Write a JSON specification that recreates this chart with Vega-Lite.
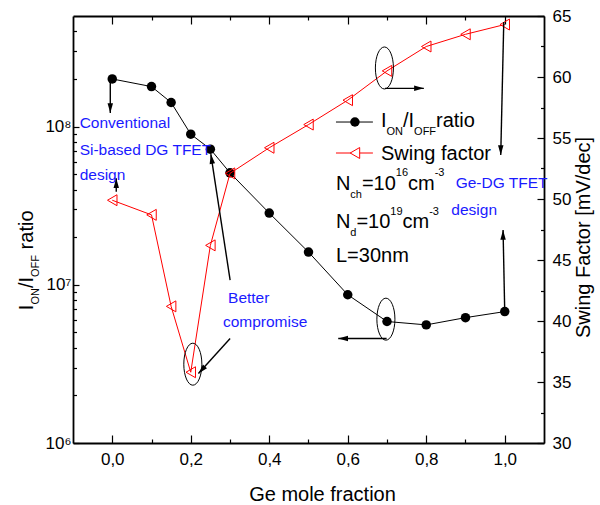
{
  "$schema": "https://vega.github.io/schema/vega-lite/v6.json",
  "width": 471,
  "height": 427,
  "autosize": {"type": "none"},
  "padding": {"left": 73, "top": 16, "right": 56, "bottom": 62},
  "config": {
    "view": {"stroke": null},
    "font": "Liberation Sans",
    "axis": {
      "labelFont": "Liberation Sans", "labelFontSize": 17, "labelColor": "black",
      "titleFont": "Liberation Sans", "titleFontSize": 20, "titleFontWeight": "normal", "titleColor": "black",
      "domainColor": "black", "domainWidth": 1.8, "tickColor": "black", "tickWidth": 1.2,
      "grid": false, "labelFlush": false, "labelOverlap": false
    }
  },
  "datasets": {
    "ratio": [
      {"x": 0, "y": 200000000}, {"x": 0.1, "y": 179000000}, {"x": 0.15, "y": 142000000},
      {"x": 0.2, "y": 89500000}, {"x": 0.25, "y": 72000000}, {"x": 0.3, "y": 51000000},
      {"x": 0.4, "y": 28400000}, {"x": 0.5, "y": 16100000}, {"x": 0.6, "y": 8650000},
      {"x": 0.7, "y": 5860000}, {"x": 0.8, "y": 5580000}, {"x": 0.9, "y": 6200000},
      {"x": 1.0, "y": 6770000}
    ],
    "swing": [
      {"x": 0, "y": 49.9}, {"x": 0.1, "y": 48.7}, {"x": 0.15, "y": 41.2}, {"x": 0.2, "y": 35.8},
      {"x": 0.25, "y": 46.2}, {"x": 0.3, "y": 52.1}, {"x": 0.4, "y": 54.2}, {"x": 0.5, "y": 56.1},
      {"x": 0.6, "y": 58.1}, {"x": 0.7, "y": 60.5}, {"x": 0.8, "y": 62.5}, {"x": 0.9, "y": 63.5},
      {"x": 1.0, "y": 64.3}
    ],
    "arrows": [
      {"x": -0.005, "y": 59.6, "x2": -0.005, "y2": 57.05, "head": "down"},
      {"x": 0.0102, "y": 50.6, "x2": 0.0102, "y2": 51.71, "head": "up"},
      {"x": 0.3003, "y": 43.35, "x2": 0.2511, "y2": 53.68, "head": "upleft"},
      {"x": 0.3003, "y": 38.56, "x2": 0.2196, "y2": 35.69, "head": "downleft"},
      {"x": 0.6947, "y": 59.07, "x2": 0.7939, "y2": 59.07, "head": "right"},
      {"x": 0.699, "y": 38.56, "x2": 0.5758, "y2": 38.56, "head": "left"},
      {"x": 0.9975, "y": 64.5, "x2": 0.9898, "y2": 53.6, "head": "down"},
      {"x": 1.0, "y": 40.72, "x2": 0.9957, "y2": 47.45, "head": "up"}
    ],
    "ellipses": [
      {"x": 0.2053, "y": 36.46}, {"x": 0.6934, "y": 60.74}, {"x": 0.6972, "y": 40.15}
    ],
    "labels": [
      {"x": -0.083, "y": 55.79, "text": "Conventional", "kind": "blue"},
      {"x": -0.083, "y": 53.6, "text": "Si-based DG TFET", "kind": "blue"},
      {"x": -0.083, "y": 51.59, "text": "design", "kind": "blue"},
      {"x": 0.295, "y": 41.46, "text": "Better", "kind": "blue"},
      {"x": 0.282, "y": 39.49, "text": "compromise", "kind": "blue"},
      {"x": 0.875, "y": 50.89, "text": "Ge-DG TFET", "kind": "blue"},
      {"x": 0.864, "y": 48.68, "text": "design", "kind": "blue"},
      {"x": 0.6845, "y": 55.87, "text": "I", "kind": "main"},
      {"x": 0.7407, "y": 55.87, "text": "/I", "kind": "main"},
      {"x": 0.8249, "y": 55.87, "text": "ratio", "kind": "main"},
      {"x": 0.6845, "y": 53.19, "text": "Swing factor", "kind": "main"},
      {"x": 0.57, "y": 50.73, "text": "N", "kind": "main"},
      {"x": 0.6361, "y": 50.73, "text": "=10", "kind": "main"},
      {"x": 0.7534, "y": 50.73, "text": "cm", "kind": "main"},
      {"x": 0.57, "y": 47.59, "text": "N", "kind": "main"},
      {"x": 0.6221, "y": 47.59, "text": "=10", "kind": "main"},
      {"x": 0.7394, "y": 47.59, "text": "cm", "kind": "main"},
      {"x": 0.57, "y": 44.85, "text": "L=30nm", "kind": "main"},
      {"x": 0.6987, "y": 55.24, "text": "ON", "kind": "small"},
      {"x": 0.769, "y": 55.24, "text": "OFF", "kind": "small"},
      {"x": 0.6066, "y": 50.07, "text": "ch", "kind": "small"},
      {"x": 0.7224, "y": 51.87, "text": "16", "kind": "small"},
      {"x": 0.8214, "y": 51.87, "text": "-3", "kind": "small"},
      {"x": 0.6066, "y": 46.96, "text": "d", "kind": "small"},
      {"x": 0.7084, "y": 48.68, "text": "19", "kind": "small"},
      {"x": 0.8074, "y": 48.68, "text": "-3", "kind": "small"},
      {"x": -0.201, "y": 40.886, "text": "I", "kind": "titleMain"},
      {"x": -0.201, "y": 42.699, "text": "/I", "kind": "titleMain"},
      {"x": -0.201, "y": 45.87, "text": "ratio", "kind": "titleMain"},
      {"x": -0.1858, "y": 41.345, "text": "ON", "kind": "titleSmall"},
      {"x": -0.1858, "y": 43.61, "text": "OFF", "kind": "titleSmall"}
    ],
    "legendLines": [
      {"x": 0.57, "x2": 0.6641, "y": 56.31, "series": "ratio"},
      {"x": 0.57, "x2": 0.6641, "y": 53.77, "series": "swing"}
    ],
    "legendMarks": [
      {"x": 0.6183, "y": 56.31, "series": "ratio"},
      {"x": 0.6183, "y": 53.77, "series": "swing"}
    ]
  },
  "layer": [
    {
      "data": {"name": "ratio"},
      "encoding": {
        "x": {
          "field": "x", "type": "quantitative",
          "scale": {"domain": [-0.1, 1.1], "nice": false, "zero": false},
          "axis": {
            "orient": "bottom", "title": "Ge mole fraction",
            "values": [0, 0.1, 0.2, 0.3, 0.4, 0.5, 0.6, 0.7, 0.8, 0.9, 1.0],
            "labelExpr": "round(datum.value*10)%2==0 ? replace(format(datum.value,'.1f'),'.',',') : ''",
            "tickSize": {"condition": {"test": "round(datum.value*10)%2==0", "value": -8}, "value": -4},
            "labelPadding": 16,
            "titleX": 249, "titleY": 57, "titleBaseline": "alphabetic", "titleAlign": "center"
          }
        },
        "y": {
          "field": "y", "type": "quantitative",
          "scale": {"type": "log", "domain": [1000000, 500000000], "nice": false},
          "axis": {
            "orient": "left", "title": null,
            "values": [1000000, 2000000, 3000000, 4000000, 5000000, 6000000, 7000000, 8000000, 9000000,
                       10000000, 20000000, 30000000, 40000000, 50000000, 60000000, 70000000, 80000000, 90000000,
                       100000000, 200000000, 300000000, 400000000],
            "labelExpr": "datum.value==1000000 ? '10⁶' : datum.value==10000000 ? '10⁷' : datum.value==100000000 ? '10⁸' : ''",
            "tickSize": {"condition": {"test": "datum.value==1000000 || datum.value==10000000 || datum.value==100000000", "value": -6}, "value": -3.5},
            "labelPadding": 8
          }
        }
      },
      "layer": [
        {"mark": {"type": "line", "color": "black", "strokeWidth": 1}},
        {"mark": {"type": "point", "shape": "circle", "filled": true, "color": "black", "size": 90, "opacity": 1}}
      ]
    },
    {
      "encoding": {
        "x": {
          "field": "x", "type": "quantitative",
          "scale": {"domain": [-0.1, 1.1], "nice": false, "zero": false},
          "axis": {
            "orient": "top", "title": null, "labels": false,
            "values": [0, 0.1, 0.2, 0.3, 0.4, 0.5, 0.6, 0.7, 0.8, 0.9, 1.0],
            "tickSize": {"condition": {"test": "round(datum.value*10)%2==0", "value": -8}, "value": -4}
          }
        },
        "y": {
          "field": "y", "type": "quantitative",
          "scale": {"domain": [30, 65], "nice": false, "zero": false},
          "axis": {
            "orient": "right", "title": "Swing Factor [mV/dec]",
            "values": [30, 32.5, 35, 37.5, 40, 42.5, 45, 47.5, 50, 52.5, 55, 57.5, 60, 62.5, 65],
            "labelExpr": "datum.value % 5 == 0 ? datum.label : ''",
            "tickSize": {"condition": {"test": "datum.value % 5 == 0", "value": -7}, "value": -3.5},
            "labelPadding": 15,
            "titleAngle": 270, "titleX": 45, "titleY": 221, "titleAlign": "center", "titleBaseline": "alphabetic"
          }
        }
      },
      "layer": [
        {"data": {"name": "swing"}, "mark": {"type": "line", "color": "#ff0000", "strokeWidth": 1}},
        {"data": {"name": "swing"}, "mark": {"type": "point", "shape": "triangle-left", "filled": false, "color": "#ff0000", "strokeWidth": 1, "size": 120, "opacity": 1}},
        {"data": {"name": "ellipses"}, "mark": {"type": "point", "shape": "M0,-1A0.43,1,0,1,1,0,1A0.43,1,0,1,1,0,-1Z", "filled": false, "color": "black", "strokeWidth": 1, "size": 1764, "opacity": 1}},
        {"data": {"name": "arrows"}, "mark": {"type": "rule", "color": "black", "strokeWidth": 1.4},
         "encoding": {"x2": {"field": "x2"}, "y2": {"field": "y2"}}},
        {"data": {"name": "arrows"}, "transform": [{"filter": "datum.head=='down'"}],
         "mark": {"type": "point", "shape": "M0,0L0.28,1L-0.28,1Z", "filled": true, "color": "black", "size": 380, "opacity": 1, "angle": 180},
         "encoding": {"x": {"field": "x2", "type": "quantitative"}, "y": {"field": "y2", "type": "quantitative"}}},
        {"data": {"name": "arrows"}, "transform": [{"filter": "datum.head=='up'"}],
         "mark": {"type": "point", "shape": "M0,0L0.28,1L-0.28,1Z", "filled": true, "color": "black", "size": 380, "opacity": 1, "angle": 0},
         "encoding": {"x": {"field": "x2", "type": "quantitative"}, "y": {"field": "y2", "type": "quantitative"}}},
        {"data": {"name": "arrows"}, "transform": [{"filter": "datum.head=='upleft'"}],
         "mark": {"type": "point", "shape": "M0,0L0.28,1L-0.28,1Z", "filled": true, "color": "black", "size": 380, "opacity": 1, "angle": 351},
         "encoding": {"x": {"field": "x2", "type": "quantitative"}, "y": {"field": "y2", "type": "quantitative"}}},
        {"data": {"name": "arrows"}, "transform": [{"filter": "datum.head=='downleft'"}],
         "mark": {"type": "point", "shape": "M0,0L0.28,1L-0.28,1Z", "filled": true, "color": "black", "size": 380, "opacity": 1, "angle": 222},
         "encoding": {"x": {"field": "x2", "type": "quantitative"}, "y": {"field": "y2", "type": "quantitative"}}},
        {"data": {"name": "arrows"}, "transform": [{"filter": "datum.head=='right'"}],
         "mark": {"type": "point", "shape": "M0,0L0.28,1L-0.28,1Z", "filled": true, "color": "black", "size": 380, "opacity": 1, "angle": 90},
         "encoding": {"x": {"field": "x2", "type": "quantitative"}, "y": {"field": "y2", "type": "quantitative"}}},
        {"data": {"name": "arrows"}, "transform": [{"filter": "datum.head=='left'"}],
         "mark": {"type": "point", "shape": "M0,0L0.28,1L-0.28,1Z", "filled": true, "color": "black", "size": 380, "opacity": 1, "angle": 270},
         "encoding": {"x": {"field": "x2", "type": "quantitative"}, "y": {"field": "y2", "type": "quantitative"}}},
        {"data": {"name": "legendLines"}, "mark": {"type": "rule", "strokeWidth": 1},
         "encoding": {"x2": {"field": "x2"},
                      "color": {"field": "series", "type": "nominal", "scale": {"domain": ["ratio", "swing"], "range": ["black", "#ff0000"]}, "legend": null}}},
        {"data": {"name": "legendMarks"}, "transform": [{"filter": "datum.series=='ratio'"}],
         "mark": {"type": "point", "shape": "circle", "filled": true, "color": "black", "size": 90, "opacity": 1}},
        {"data": {"name": "legendMarks"}, "transform": [{"filter": "datum.series=='swing'"}],
         "mark": {"type": "point", "shape": "triangle-left", "filled": true, "fill": "white", "stroke": "#ff0000", "strokeWidth": 1, "size": 120, "opacity": 1}},
        {"data": {"name": "labels"}, "transform": [{"filter": "datum.kind=='blue'"}],
         "mark": {"type": "text", "align": "left", "baseline": "alphabetic", "font": "Liberation Sans", "fontSize": 15.5, "color": "#1a1aff"},
         "encoding": {"text": {"field": "text"}}},
        {"data": {"name": "labels"}, "transform": [{"filter": "datum.kind=='main'"}],
         "mark": {"type": "text", "align": "left", "baseline": "alphabetic", "font": "Liberation Sans", "fontSize": 20, "color": "black"},
         "encoding": {"text": {"field": "text"}}},
        {"data": {"name": "labels"}, "transform": [{"filter": "datum.kind=='small'"}],
         "mark": {"type": "text", "align": "left", "baseline": "alphabetic", "font": "Liberation Sans", "fontSize": 11, "color": "black"},
         "encoding": {"text": {"field": "text"}}},
        {"data": {"name": "labels"}, "transform": [{"filter": "datum.kind=='titleMain'"}],
         "mark": {"type": "text", "align": "left", "baseline": "alphabetic", "font": "Liberation Sans", "fontSize": 20, "color": "black", "angle": 270},
         "encoding": {"text": {"field": "text"}}},
        {"data": {"name": "labels"}, "transform": [{"filter": "datum.kind=='titleSmall'"}],
         "mark": {"type": "text", "align": "left", "baseline": "alphabetic", "font": "Liberation Sans", "fontSize": 11, "color": "black", "angle": 270},
         "encoding": {"text": {"field": "text"}}}
      ]
    }
  ],
  "resolve": {"scale": {"y": "independent"}, "axis": {"x": "independent", "y": "independent"}}
}
